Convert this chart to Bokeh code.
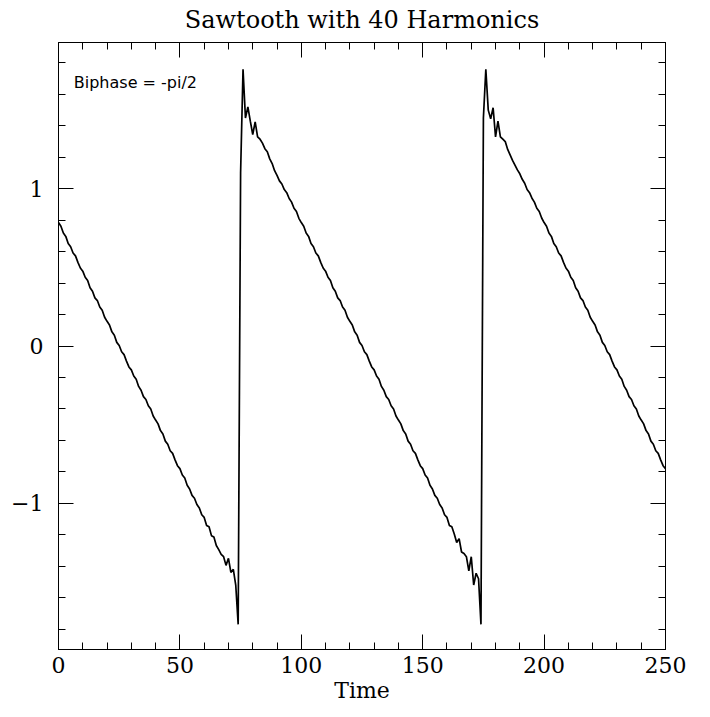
from bokeh.plotting import figure
from bokeh.models import Range1d, LinearAxis, FixedTicker, Label, CustomJSTickFormatter
from bokeh.embed import file_html
from bokeh.resources import INLINE

# ---- data ----
time = [
    0, 1, 2, 3, 4, 5, 6, 7, 8, 9,
    10, 11, 12, 13, 14, 15, 16, 17, 18, 19,
    20, 21, 22, 23, 24, 25, 26, 27, 28, 29,
    30, 31, 32, 33, 34, 35, 36, 37, 38, 39,
    40, 41, 42, 43, 44, 45, 46, 47, 48, 49,
    50, 51, 52, 53, 54, 55, 56, 57, 58, 59,
    60, 61, 62, 63, 64, 65, 66, 67, 68, 69,
    70, 71, 72, 73, 74, 75, 76, 77, 78, 79,
    80, 81, 82, 83, 84, 85, 86, 87, 88, 89,
    90, 91, 92, 93, 94, 95, 96, 97, 98, 99,
    100, 101, 102, 103, 104, 105, 106, 107, 108, 109,
    110, 111, 112, 113, 114, 115, 116, 117, 118, 119,
    120, 121, 122, 123, 124, 125, 126, 127, 128, 129,
    130, 131, 132, 133, 134, 135, 136, 137, 138, 139,
    140, 141, 142, 143, 144, 145, 146, 147, 148, 149,
    150, 151, 152, 153, 154, 155, 156, 157, 158, 159,
    160, 161, 162, 163, 164, 165, 166, 167, 168, 169,
    170, 171, 172, 173, 174, 175, 176, 177, 178, 179,
    180, 181, 182, 183, 184, 185, 186, 187, 188, 189,
    190, 191, 192, 193, 194, 195, 196, 197, 198, 199,
    200, 201, 202, 203, 204, 205, 206, 207, 208, 209,
    210, 211, 212, 213, 214, 215, 216, 217, 218, 219,
    220, 221, 222, 223, 224, 225, 226, 227, 228, 229,
    230, 231, 232, 233, 234, 235, 236, 237, 238, 239,
    240, 241, 242, 243, 244, 245, 246, 247, 248, 249,
    250,
]

signal = [
    0.785, 0.762, 0.718, 0.697, 0.652, 0.631, 0.591, 0.573, 0.532, 0.496,
    0.476, 0.437, 0.416, 0.371, 0.348, 0.306, 0.289, 0.248, 0.227, 0.183,
    0.157, 0.134, 0.090, 0.069, 0.023, 0.003, -0.037, -0.055, -0.096, -0.133,
    -0.152, -0.191, -0.212, -0.257, -0.281, -0.322, -0.340, -0.380, -0.401, -0.445,
    -0.471, -0.495, -0.538, -0.559, -0.605, -0.625, -0.666, -0.683, -0.724, -0.761,
    -0.780, -0.820, -0.840, -0.886, -0.909, -0.950, -0.968, -1.008, -1.030, -1.073,
    -1.090, -1.141, -1.150, -1.206, -1.215, -1.269, -1.295, -1.325, -1.340, -1.395,
    -1.350, -1.440, -1.420, -1.520, -1.770, 1.100, 1.760, 1.450, 1.520, 1.430,
    1.345, 1.425, 1.330, 1.315, 1.290, 1.255, 1.235, 1.190, 1.160, 1.115,
    1.085, 1.050, 1.030, 0.995, 0.975, 0.938, 0.915, 0.876, 0.855, 0.812,
    0.785, 0.762, 0.718, 0.697, 0.652, 0.631, 0.591, 0.573, 0.532, 0.496,
    0.476, 0.437, 0.416, 0.371, 0.348, 0.306, 0.289, 0.248, 0.227, 0.183,
    0.157, 0.134, 0.090, 0.069, 0.023, 0.003, -0.037, -0.055, -0.096, -0.133,
    -0.152, -0.191, -0.212, -0.257, -0.281, -0.322, -0.340, -0.380, -0.401, -0.445,
    -0.471, -0.495, -0.538, -0.559, -0.605, -0.625, -0.666, -0.683, -0.724, -0.761,
    -0.780, -0.820, -0.840, -0.886, -0.909, -0.950, -0.968, -1.008, -1.030, -1.073,
    -1.090, -1.141, -1.150, -1.195, -1.250, -1.225, -1.310, -1.320, -1.340, -1.430,
    -1.340, -1.520, -1.445, -1.480, -1.770, 1.450, 1.760, 1.500, 1.445, 1.515,
    1.330, 1.430, 1.330, 1.315, 1.300, 1.250, 1.215, 1.180, 1.150, 1.120,
    1.095, 1.060, 1.035, 0.995, 0.975, 0.940, 0.915, 0.876, 0.855, 0.814,
    0.785, 0.762, 0.718, 0.697, 0.652, 0.631, 0.591, 0.573, 0.532, 0.496,
    0.476, 0.437, 0.416, 0.371, 0.348, 0.306, 0.289, 0.248, 0.227, 0.183,
    0.157, 0.134, 0.090, 0.069, 0.023, 0.003, -0.037, -0.055, -0.096, -0.133,
    -0.152, -0.191, -0.212, -0.257, -0.281, -0.322, -0.340, -0.380, -0.401, -0.445,
    -0.471, -0.495, -0.538, -0.559, -0.605, -0.625, -0.666, -0.683, -0.724, -0.761,
    -0.780,
]

x_major = [0, 50, 100, 150, 200, 250]
x_minor = [10, 20, 30, 40, 60, 70, 80, 90, 110, 120, 130, 140,
           160, 170, 180, 190, 210, 220, 230, 240]
y_major = [-1, 0, 1]
y_minor = [-1.8, -1.6, -1.4, -1.2, -0.8, -0.6, -0.4, -0.2,
           0.2, 0.4, 0.6, 0.8, 1.2, 1.4, 1.6, 1.8]
y_labels = {-1: "\u22121", 0: "0", 1: "1"}

title_text = "Sawtooth with 40 Harmonics"
x_title = "Time"
note_text = "Biphase = -pi/2"

SERIF = "DejaVu Serif"

p = figure(width=710, height=717, output_backend="svg", toolbar_location=None,
           x_range=Range1d(0, 250), y_range=Range1d(-1.93, 1.93),
           min_border_left=58, min_border_right=45, min_border_top=42,
           min_border_bottom=68, x_axis_location=None, y_axis_location=None)

p.grid.visible = False
p.outline_line_color = "black"
p.outline_line_width = 1
p.background_fill_color = "white"
p.border_fill_color = "white"


def style_axis(ax, major, minor, labelled, standoff):
    ax.ticker = FixedTicker(ticks=major, minor_ticks=minor)
    ax.major_tick_in = 15
    ax.major_tick_out = 0
    ax.minor_tick_in = 7
    ax.minor_tick_out = 0
    ax.axis_line_color = "black"
    ax.major_tick_line_color = "black"
    ax.minor_tick_line_color = "black"
    ax.axis_line_width = 1
    ax.major_label_text_font = SERIF
    ax.major_label_text_color = "black"
    ax.major_label_text_font_size = "22px"
    ax.major_label_standoff = standoff
    if not labelled:
        ax.formatter = CustomJSTickFormatter(code="return ''")


bottom = LinearAxis()
style_axis(bottom, x_major, x_minor, True, 7)
bottom.axis_label = x_title
bottom.axis_label_text_font = SERIF
bottom.axis_label_text_font_size = "22px"
bottom.axis_label_text_font_style = "normal"
bottom.axis_label_text_color = "black"
bottom.axis_label_standoff = 2
p.add_layout(bottom, "below")

# top axis carries the chart title as its label
top = LinearAxis()
style_axis(top, x_major, x_minor, False, 0)
top.axis_label = title_text
top.axis_label_text_font = SERIF
top.axis_label_text_font_size = "24px"
top.axis_label_text_font_style = "normal"
top.axis_label_text_color = "black"
top.axis_label_standoff = 9
p.add_layout(top, "above")

left = LinearAxis()
style_axis(left, y_major, y_minor, True, 15)
left.major_label_overrides = y_labels
p.add_layout(left, "left")

right = LinearAxis()
style_axis(right, y_major, y_minor, False, 0)
p.add_layout(right, "right")

p.line(time, signal, line_color="black", line_width=1.7)

note = Label(x=6.3, y=1.676, text=note_text, text_font="DejaVu Sans",
             text_font_size="16px", text_color="black",
             text_baseline="alphabetic", text_align="left")
p.add_layout(note)

open("out.html", "w").write(file_html(p, INLINE))
